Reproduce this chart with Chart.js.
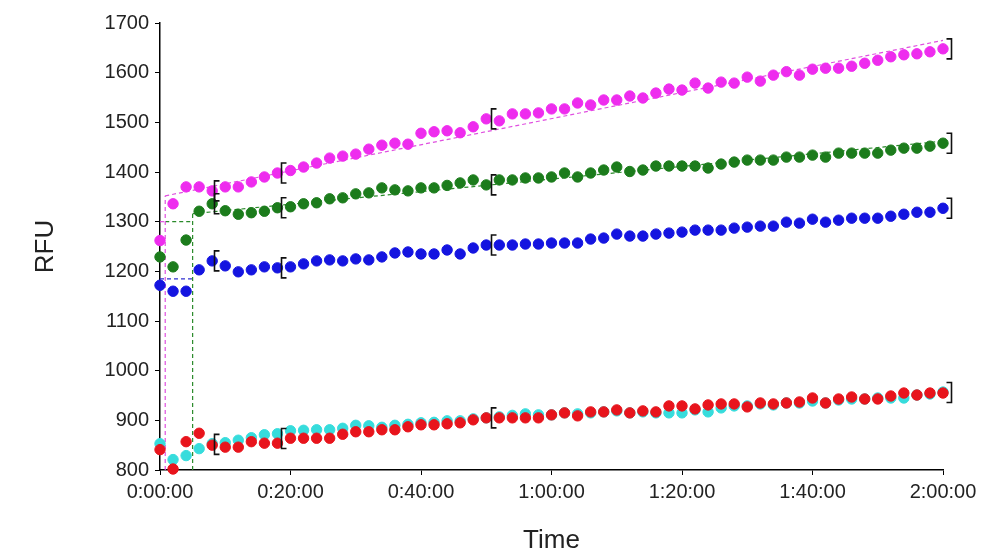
<!DOCTYPE html>
<html lang="en">
<head>
<meta charset="UTF-8" />
<title>RFU vs Time</title>
<script src="https://cdn.jsdelivr.net/npm/chart.js"></script>
<style>
  body { margin: 0; background: #fff; }
  #wrap { width: 986px; height: 556px; }
</style>
</head>
<body>
<div id="wrap"><canvas id="rfuChart"></canvas></div>
<script>
// read times in minutes
const minutes = [0, 2, 4, 6, 8, 10, 12, 14, 16, 18, 20, 22, 24, 26, 28, 30, 32, 34, 36, 38, 40,
  42, 44, 46, 48, 50, 52, 54, 56, 58, 60, 62, 64, 66, 68, 70, 72, 74, 76, 78, 80,
  82, 84, 86, 88, 90, 92, 94, 96, 98, 100, 102, 104, 106, 108, 110, 112, 114, 116, 118, 120];

const magentaRfu = [1262, 1336, 1370, 1370, 1362, 1370, 1370, 1380, 1390, 1398, 1403,
  1410, 1418, 1428, 1432, 1436, 1446, 1454, 1458, 1456, 1478, 1481, 1483,
  1479, 1491, 1507, 1503, 1517, 1517, 1519, 1527, 1527, 1539, 1535, 1545, 1545, 1553,
  1549, 1559, 1567, 1565, 1579, 1569, 1581, 1579, 1591, 1583, 1595, 1602,
  1595, 1607, 1609, 1609, 1613, 1619, 1625, 1632, 1636, 1638, 1642, 1648];

const greenRfu = [1229, 1209, 1263, 1321, 1336, 1322, 1315, 1318, 1321, 1328, 1330,
  1336, 1338, 1346, 1348, 1356, 1358, 1368, 1364, 1362, 1368, 1368, 1373,
  1378, 1384, 1374, 1384, 1384, 1388, 1388, 1390, 1398, 1390, 1398, 1404, 1410, 1401,
  1404, 1412, 1412, 1412, 1412, 1408, 1416, 1420, 1424, 1424, 1424, 1430,
  1430, 1434, 1430, 1438, 1438, 1438, 1438, 1444, 1448, 1448, 1452, 1458];

const blueRfu = [1172, 1160, 1160, 1203, 1221, 1211, 1199, 1203, 1209, 1207, 1209,
  1215, 1221, 1223, 1221, 1225, 1223, 1229, 1237, 1239, 1235, 1235, 1243,
  1235, 1247, 1253, 1253, 1253, 1255, 1255, 1257, 1257, 1257, 1265, 1267, 1275, 1271,
  1271, 1275, 1277, 1279, 1283, 1283, 1283, 1287, 1289, 1291, 1291, 1299,
  1297, 1305, 1299, 1303, 1307, 1307, 1307, 1311, 1315, 1319, 1319, 1327];

const redRfu = [841, 802, 857, 874, 850, 846, 846, 857, 854, 854, 864,
  864, 864, 864, 872, 877, 877, 881, 881, 887, 891, 891, 893,
  895, 901, 905, 905, 905, 905, 905, 911, 915, 909, 917, 917, 921, 915,
  919, 917, 929, 929, 923, 931, 933, 933, 927, 935, 933, 935,
  937, 945, 935, 943, 947, 943, 943, 949, 955, 951, 955, 955];

const cyanRfu = [853, 821, 829, 843, 853, 855, 860, 865, 871, 873, 879,
  880, 881, 881, 884, 890, 889, 886, 890, 892, 895, 896, 899,
  899, 903, 905, 907, 910, 913, 911, 911, 915, 913, 915, 917, 919, 915,
  917, 915, 915, 915, 921, 917, 925, 929, 929, 933, 931, 935,
  935, 939, 935, 941, 943, 943, 945, 945, 945, 951, 953, 957];

// dashed fit / baseline guides: [minute, rfu] pairs
const magentaFit = [[0.8, 1352], [120, 1665]];
const magentaDrop = [[0.8, 800], [0.8, 1352]];
const magentaBase = [[0, 1300], [0.8, 1300]];
const greenFit = [[5, 1316], [120, 1462]];
const greenDrop = [[5, 800], [5, 1316]];
const greenBase = [[0.8, 1300], [5, 1300]];
const blueBase = [[0, 1185], [5, 1185]];

// fit window markers (minutes)
const windowStarts = [8.2, 18.5, 50.8];
const windowEnd = 121.3;

const yTicks = [800, 900, 1000, 1100, 1200, 1300, 1400, 1500, 1600, 1700];
const xTicks = [0, 20, 40, 60, 80, 100, 120];

const toPoints = vals => minutes.map((m, i) => ({ x: m, y: vals[i] }));
const toLine = pairs => pairs.map(p => ({ x: p[0], y: p[1] }));

const fmtTime = v => Math.floor(v / 60) + ':' + String(v % 60).padStart(2, '0') + ':00';

function series(vals, color) {
  return {
    data: toPoints(vals),
    backgroundColor: color,
    borderColor: color,
    pointRadius: 5.2,
    pointHoverRadius: 5.2,
    showLine: false,
    clip: false
  };
}

function guide(pairs, color) {
  return {
    data: toLine(pairs),
    borderColor: color,
    borderWidth: 1.2,
    borderDash: [4, 3],
    pointRadius: 0,
    showLine: true,
    clip: false
  };
}

// groups sharing one bracket
const bracketGroups = [[magentaRfu], [greenRfu], [blueRfu], [redRfu, cyanRfu]];

const bracketPlugin = {
  id: 'fitBrackets',
  afterDatasetsDraw(chart) {
    const { ctx, scales: { x, y } } = chart;
    ctx.save();
    ctx.strokeStyle = '#111';
    ctx.lineWidth = 1.6;
    const mark = (t, v, dir) => {
      const px = Math.round(x.getPixelForValue(t)) + 0.5;
      const py = y.getPixelForValue(v);
      ctx.beginPath();
      ctx.moveTo(px + 5 * dir, py - 10);
      ctx.lineTo(px, py - 10);
      ctx.lineTo(px, py + 10);
      ctx.lineTo(px + 5 * dir, py + 10);
      ctx.stroke();
    };
    const groupValue = (group, i) => group.reduce((s, vals) => s + vals[i], 0) / group.length;
    bracketGroups.forEach(group => {
      windowStarts.forEach(t => {
        const i = Math.round(t / 2);
        mark(t, groupValue(group, i), 1);
      });
      mark(windowEnd, groupValue(group, minutes.length - 1), -1);
    });
    ctx.restore();
  }
};

new Chart(document.getElementById('rfuChart'), {
  type: 'scatter',
  data: {
    datasets: [
      series(redRfu, '#e8141c'),
      series(cyanRfu, '#36dcdc'),
      series(blueRfu, '#1414e0'),
      series(greenRfu, '#1c7c1c'),
      series(magentaRfu, '#ee2cee'),
      guide(magentaFit, '#e050e0'),
      guide(magentaDrop, '#e050e0'),
      guide(magentaBase, '#e050e0'),
      guide(greenFit, '#2a8a2a'),
      guide(greenDrop, '#2a8a2a'),
      guide(greenBase, '#2a8a2a'),
      guide(blueBase, '#3030d0')
    ]
  },
  options: {
    responsive: true,
    maintainAspectRatio: false,
    animation: false,
    layout: { padding: { top: 23, right: 43, bottom: 0, left: 0 } },
    plugins: {
      legend: { display: false },
      tooltip: { enabled: false }
    },
    scales: {
      x: {
        type: 'linear',
        min: 0,
        max: 120,
        afterBuildTicks: s => { s.ticks = xTicks.map(v => ({ value: v })); },
        afterFit: s => { s.height = 86; },
        ticks: {
          color: '#222',
          font: { family: 'Liberation Sans, Arial, sans-serif', size: 20 },
          padding: 5,
          maxRotation: 0,
          callback: v => fmtTime(v)
        },
        grid: { drawOnChartArea: false, drawTicks: true, tickLength: 5, color: '#000' },
        border: { color: '#000', width: 1.5 },
        title: {
          display: true,
          text: 'Time',
          color: '#222',
          font: { family: 'Liberation Sans, Arial, sans-serif', size: 26 },
          padding: { top: 0, bottom: 0 }
        }
      },
      y: {
        min: 800,
        max: 1700,
        afterBuildTicks: s => { s.ticks = yTicks.map(v => ({ value: v })); },
        afterFit: s => { s.width = 160; },
        ticks: {
          color: '#222',
          font: { family: 'Liberation Sans, Arial, sans-serif', size: 20 },
          padding: 6,
          callback: v => String(v)
        },
        grid: { drawOnChartArea: false, drawTicks: true, tickLength: 5, color: '#000' },
        border: { color: '#000', width: 1.5 },
        title: {
          display: true,
          text: 'RFU',
          color: '#222',
          font: { family: 'Liberation Sans, Arial, sans-serif', size: 26 },
          padding: { top: 30, bottom: 0 }
        }
      }
    }
  },
  plugins: [bracketPlugin]
});
</script>
</body>
</html>
